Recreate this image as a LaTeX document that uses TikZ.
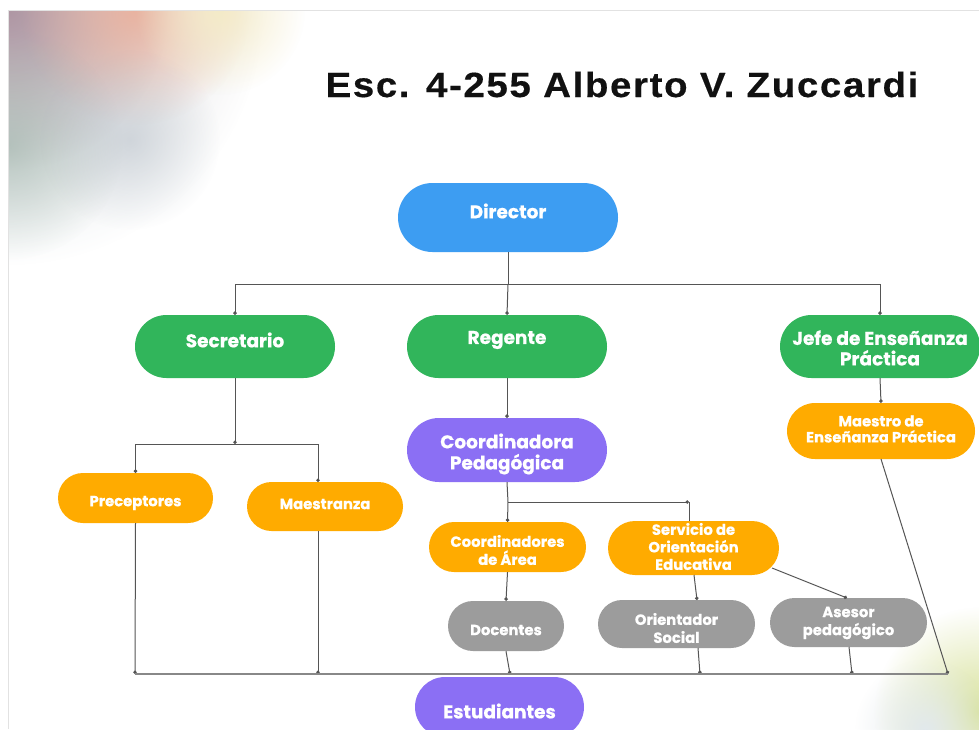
\documentclass[tikz,border=0pt]{standalone}
\usepackage{fontspec}
\setmainfont{Liberation Sans}
\newfontfamily\titlefont{Liberation Sans}[BoldFeatures={FakeStretch=1.1,LetterSpace=4.6,FakeBold=0.4}]
\newfontfamily\pop{Poppins}[BoldFeatures={FakeBold=0.6}]
\usetikzlibrary{shapes.misc,arrows.meta,fadings}
\definecolor{cblue}{HTML}{3D9DF2}
\definecolor{cgreen}{HTML}{31B55B}
\definecolor{cpurple}{HTML}{8B6FF4}
\definecolor{corange}{HTML}{FFAB00}
\definecolor{cgray}{HTML}{9C9C9C}
\definecolor{cline}{HTML}{555555}
\definecolor{ctitle}{HTML}{111111}
\definecolor{bwarm}{HTML}{CDB0AC}
\definecolor{bcool}{HTML}{C8D4DA}
\definecolor{bmauve}{HTML}{A88C9C}
\definecolor{bsalmon}{HTML}{ECAE98}
\definecolor{byellow}{HTML}{F4EBC8}
\definecolor{bgreen}{HTML}{A3B7AE}
\definecolor{bbluegray}{HTML}{B2BCC6}
\definecolor{blime}{HTML}{D8E29C}
\definecolor{bpale2}{HTML}{E2E9EC}
\definecolor{bframe}{HTML}{E2E2E2}
\tikzfading[name=blobfade, inner color=transparent!0, outer color=transparent!100]
\begin{document}
\begin{tikzpicture}[x=1pt,y=-1pt,
 pill/.style={rounded rectangle, inner sep=0pt, draw=none},
 bigtxt/.style={font=\pop\bfseries\fontsize{18.5}{20.5}\selectfont, text=white, align=center, inner sep=0pt},
 smalltxt/.style={font=\pop\bfseries\fontsize{14.8}{18}\selectfont, text=white, align=center, inner sep=0pt},
 conn/.style={draw=cline, line width=1pt},
 tipc/.style={conn, -{Circle[length=3.5pt]}},
 blob/.style={path fading=blobfade, fit fading=true},
]
\useasboundingbox (0,0) rectangle (979,729);
\fill[white] (0,0) rectangle (979,729);
\begin{scope}
\clip (8,10) rectangle (979,729);
% top-left wash
\shade[top color=bwarm, middle color=bwarm, bottom color=bcool, blob] (8,10) circle (255);
\fill[bmauve, blob, opacity=0.8] (8,10) circle (160);
\fill[bsalmon, blob, opacity=0.85] (135,10) circle (115);
\fill[byellow, blob] (220,10) circle (85);
\fill[bgreen, blob, opacity=0.7] (8,145) circle (115);
\fill[bbluegray, blob, opacity=0.5] (130,140) circle (90);
% bottom-right wash
\fill[blime, blob] (979,712) circle (105);
\fill[bpale2, blob] (925,729) circle (70);
\end{scope}
\draw[bframe, line width=1pt] (8,729) -- (8,10) -- (979,10);

% title
\node[font=\titlefont\bfseries\fontsize{35}{40}\selectfont, text=ctitle, anchor=base, inner sep=0pt] (title) at (622,97) {Esc. 4-255 Alberto V. Zuccardi};

% nodes
\node[pill, fill=cblue, minimum width=220pt, minimum height=69pt] (dir) at (508,217.5) {};
\node[bigtxt] (dirT) at (508,211) {Director};

\node[pill, fill=cgreen, minimum width=200pt, minimum height=63pt] (sec) at (235,346.5) {};
\node[bigtxt] (secT) at (235,340) {Secretario};
\node[pill, fill=cgreen, minimum width=200pt, minimum height=63pt] (reg) at (507,346.5) {};
\node[bigtxt] (regT) at (507,340) {Regente};
\node[pill, fill=cgreen, minimum width=200pt, minimum height=63pt] (jefe) at (880,346.5) {};
\node[bigtxt] (jefeT) at (880,348) {Jefe de Enseñanza\\Práctica};

\node[pill, fill=corange, minimum width=155pt, minimum height=50pt] (prec) at (135.5,498) {};
\node[smalltxt] (precT) at (135.5,503) {Preceptores};
\node[pill, fill=corange, minimum width=156pt, minimum height=49pt] (maes) at (325,506.5) {};
\node[smalltxt] (maesT) at (325,504) {Maestranza};

\node[pill, fill=cpurple, minimum width=200pt, minimum height=64pt] (cp) at (507,450) {};
\node[bigtxt, font=\pop\bfseries\fontsize{18.5}{21}\selectfont] (cpT) at (507,454) {Coordinadora\\Pedagógica};

\node[pill, fill=corange, minimum width=188pt, minimum height=56pt] (mep) at (881,431) {};
\node[smalltxt, font=\pop\bfseries\fontsize{14.8}{16}\selectfont] (mepT) at (881,429) {Maestro de\\Enseñanza Práctica};

\node[pill, fill=corange, minimum width=157pt, minimum height=50pt] (ca) at (507.5,547) {};
\node[smalltxt] (caT) at (507.5,550) {Coordinadores\\de Área};
\node[pill, fill=corange, minimum width=171pt, minimum height=54pt] (soe) at (693.5,548) {};
\node[smalltxt, font=\pop\bfseries\fontsize{14.8}{17.5}\selectfont] (soeT) at (693.5,546.5) {Servicio de\\Orientación\\Educativa};

\node[pill, fill=cgray, minimum width=116pt, minimum height=50pt] (doc) at (506,626) {};
\node[smalltxt] (docT) at (506,630) {Docentes};
\node[pill, fill=cgray, minimum width=157pt, minimum height=48pt] (ori) at (676.5,624) {};
\node[smalltxt] (oriT) at (676.5,628) {Orientador\\Social};
\node[pill, fill=cgray, minimum width=157pt, minimum height=49pt] (ase) at (848.5,622.5) {};
\node[smalltxt] (aseT) at (848.5,623) {Asesor\\pedagógico};

\node[pill, fill=cpurple, minimum width=169pt, minimum height=60pt] (est) at (499.5,707) {};
\node[bigtxt] (estT) at (499.5,711) {Estudiantes};

% junction coordinates
\coordinate (j1) at (508,284);
\coordinate (j2) at (235,444);
\coordinate (j2m) at (318,444);
\coordinate (maesTop) at (318,482);
\coordinate (maesBot) at (318,531);
\coordinate (j3) at (508,502);
\coordinate (j3r) at (689,502);
\coordinate (soeTop) at (689,521);
\coordinate (bL) at (135,674);
\coordinate (bM) at (318,674);
\coordinate (bD) at (510,674);
\coordinate (bO) at (700,674);
\coordinate (bA) at (852,674);
\coordinate (bR) at (948,674);
\coordinate (soeB) at (694,575);
\coordinate (oriTop) at (697,600);
\coordinate (oriB) at (698,648);
\coordinate (soeR) at (772,568);
\coordinate (aseTop) at (847,598);
\coordinate (aseB) at (849,647);
\coordinate (mepB) at (881,459);

% connectors
\draw[conn] (dir.south) -- (j1);
\draw[conn] (sec.north |- j1) -- (jefe.north |- j1);
\draw[tipc] (j1) -| (sec.north);
\draw[tipc] (j1) -- (reg.north);
\draw[tipc] (j1) -| (jefe.north);

\draw[tipc] (sec.south) -- (j2);
\draw[conn] (j2) -- (j2m);
\draw[tipc] (j2) -| (prec.north);
\draw[tipc] (j2m) -- (maesTop);
\draw[tipc] (prec.south) -- (bL);
\draw[tipc] (maesBot) -- (bM);

\draw[tipc] (reg.south) -- (cp.north);
\draw[conn] (cp.south) -- (j3);
\draw[tipc] (j3) -- (ca.north);
\draw[tipc] (j3) -- (j3r);
\draw[conn] (j3r) -- (soeTop);

\draw[tipc] (ca.south) -- (doc.north);
\draw[tipc] (doc.south) -- (bD);
\draw[tipc] (soeB) -- (oriTop);
\draw[tipc] (oriB) -- (bO);
\draw[tipc] (soeR) -- (aseTop);
\draw[tipc] (aseB) -- (bA);

\draw[tipc] (jefe.south) -- (mep.north);
\draw[tipc] (mepB) -- (bR);

\draw[draw=cline!70, line width=1.5pt] (bL) -- (bR);
\end{tikzpicture}
\end{document}
